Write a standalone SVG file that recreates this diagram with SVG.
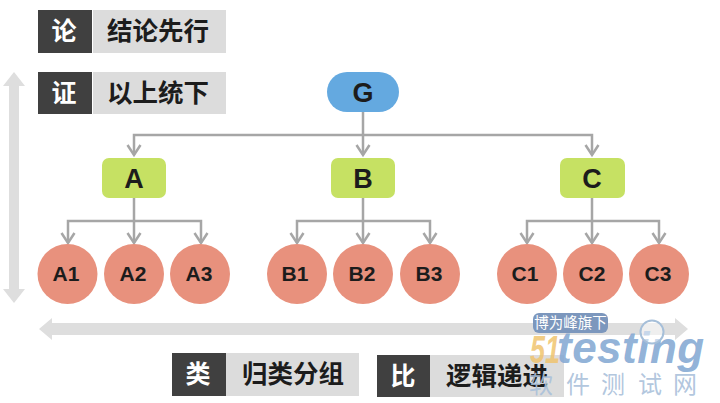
<svg xmlns="http://www.w3.org/2000/svg" width="720" height="403" viewBox="0 0 720 403">
  <style>
    text { font-family: "Liberation Sans", "Noto Sans CJK SC", sans-serif; text-anchor: middle; font-weight: 700; fill: #1c1c1c; }
    .tag { fill: #404040; }
    .band { fill: #dcdcdc; }
    .tagtext { fill: #fff; font-size: 25px; font-family: "Noto Sans CJK SC", sans-serif; }
    .bandtext { font-size: 25.500px; font-family: "Noto Sans CJK SC", sans-serif; }
    .root { fill: #64a9e0; }
    .mid { fill: #c6e163; }
    .leaf { fill: #e8917d; }
    .big { font-size: 27px; }
    .small { font-size: 21px; }
    .wire { fill: none; stroke: #a6a6a6; stroke-width: 2.500; }
  </style>
  <defs>
    <marker id="tip" markerUnits="userSpaceOnUse" markerWidth="16" markerHeight="16" refX="13" refY="8" orient="auto">
      <path d="M3 1.500 L13 8 L3 14.500" fill="none" stroke="#a6a6a6" stroke-width="2.500"/>
    </marker>
  </defs>

  <!-- Direction arrows -->
  <path fill="#dedede" d="M14 72 L25 86 L19 86 L19 289 L25 289 L14 303 L3 289 L9 289 L9 86 L3 86 Z"/>
  <path fill="#dedede" d="M39 329 L52 318 L52 323 L675 323 L675 318 L688 329 L675 340 L675 335 L52 335 L52 340 Z"/>

  <!-- Connectors -->
  <g id="connectors" class="wire">
    <path d="M363 112 V155" marker-end="url(#tip)"/>
    <path d="M363 135 H134 V155" marker-end="url(#tip)"/>
    <path d="M363 135 H592 V155" marker-end="url(#tip)"/>
    <path d="M134 198 V243" marker-end="url(#tip)"/>
    <path d="M134 221 H68 V243" marker-end="url(#tip)"/>
    <path d="M134 221 H201 V243" marker-end="url(#tip)"/>
    <path d="M363 198 V243" marker-end="url(#tip)"/>
    <path d="M363 221 H297 V243" marker-end="url(#tip)"/>
    <path d="M363 221 H430 V243" marker-end="url(#tip)"/>
    <path d="M592 198 V243" marker-end="url(#tip)"/>
    <path d="M592 221 H527 V243" marker-end="url(#tip)"/>
    <path d="M592 221 H659 V243" marker-end="url(#tip)"/>
  </g>

  <!-- Legend bands -->
  <g id="legend-lun">
    <rect class="band" x="93" y="10" width="133" height="43"/>
    <rect class="tag" x="38" y="10" width="54" height="43"/>
    <text class="tagtext" x="64" y="40">论</text>
    <text class="bandtext" x="158" y="40">结论先行</text>
  </g>
  <g id="legend-zheng">
    <rect class="band" x="93" y="72" width="133" height="42"/>
    <rect class="tag" x="38" y="72" width="54" height="42"/>
    <text class="tagtext" x="64" y="102">证</text>
    <text class="bandtext" x="158" y="102">以上统下</text>
  </g>
  <g id="legend-lei">
    <rect class="band" x="226" y="353" width="133" height="43"/>
    <rect class="tag" x="172" y="353" width="54" height="43"/>
    <text class="tagtext" x="198" y="383">类</text>
    <text class="bandtext" x="293" y="383">归类分组</text>
  </g>
  <g id="legend-bi">
    <rect class="band" x="430" y="355" width="134" height="42"/>
    <rect class="tag" x="377" y="355" width="53" height="42"/>
    <text class="tagtext" x="403" y="385">比</text>
    <text class="bandtext" x="497" y="385">逻辑递进</text>
  </g>

  <!-- Tree nodes -->
  <g id="node-G"><rect class="root" x="327" y="72" width="72" height="40" rx="20"/><text class="big" x="363" y="102">G</text></g>
  <g id="node-A"><rect class="mid" x="102" y="158" width="64" height="40" rx="7"/><text class="big" x="134" y="188">A</text></g>
  <g id="node-B"><rect class="mid" x="331" y="158" width="64" height="40" rx="7"/><text class="big" x="363" y="188">B</text></g>
  <g id="node-C"><rect class="mid" x="560" y="158" width="65" height="40" rx="7"/><text class="big" x="592" y="188">C</text></g>

  <g id="node-A1"><circle class="leaf" cx="67.500" cy="274" r="30"/><text class="small" x="66" y="281">A1</text></g>
  <g id="node-A2"><circle class="leaf" cx="134" cy="274" r="30"/><text class="small" x="133" y="281">A2</text></g>
  <g id="node-A3"><circle class="leaf" cx="200" cy="274" r="30"/><text class="small" x="199" y="281">A3</text></g>
  <g id="node-B1"><circle class="leaf" cx="297" cy="274" r="30"/><text class="small" x="295" y="281">B1</text></g>
  <g id="node-B2"><circle class="leaf" cx="363" cy="274" r="30"/><text class="small" x="362" y="281">B2</text></g>
  <g id="node-B3"><circle class="leaf" cx="430" cy="274" r="30"/><text class="small" x="429" y="281">B3</text></g>
  <g id="node-C1"><circle class="leaf" cx="527" cy="274" r="30"/><text class="small" x="525" y="281">C1</text></g>
  <g id="node-C2"><circle class="leaf" cx="593" cy="274" r="30"/><text class="small" x="592" y="281">C2</text></g>
  <g id="node-C3"><circle class="leaf" cx="659" cy="274" r="30"/><text class="small" x="658" y="281">C3</text></g>

  <!-- Site mark -->
  <g id="site-mark">
    <rect x="533" y="313" width="75" height="20" rx="6" fill="#7c97bd"/>
    <text x="570.500" y="328" style="font-size:14.500px;font-weight:400;fill:#fff;font-family:'Noto Sans CJK SC',sans-serif">博为峰旗下</text>
    <text x="530" y="363" textLength="30" lengthAdjust="spacingAndGlyphs" style="font-size:38px;font-style:italic;fill:#f0c46e;fill-opacity:.85;text-anchor:start">51</text>
    <text x="557" y="363" style="font-size:44px;font-style:italic;fill:#84a9d3;fill-opacity:.9;text-anchor:start;letter-spacing:.5px">testing</text>
    <circle cx="652" cy="332" r="11.500" fill="#fff" fill-opacity=".5" stroke="#a6bfd9" stroke-width="2"/>
    <text x="541 578 613 650 685" y="393" style="font-size:24px;font-weight:400;fill:#a9c0da;fill-opacity:.9;font-family:'Noto Sans CJK SC',sans-serif">软件测试网</text>
  </g>
</svg>
